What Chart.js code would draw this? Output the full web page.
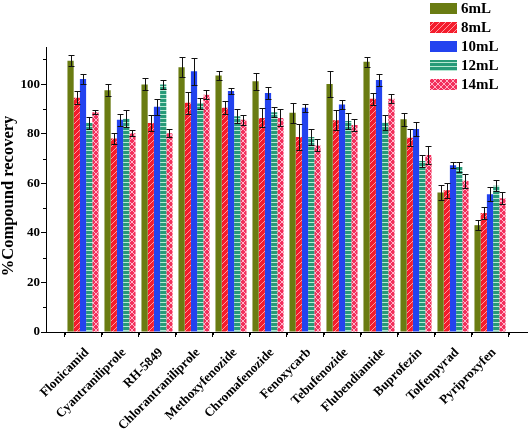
<!DOCTYPE html>
<html>
<head>
<meta charset="utf-8">
<script src="https://cdn.jsdelivr.net/npm/chart.js@4.4.0/dist/chart.umd.min.js"></script>
<style>
  html, body { margin: 0; padding: 0; background: #fff; }
</style>
</head>
<body>
<canvas id="myChart" width="529" height="437"></canvas>
<script>
var compounds = ["Flonicamid", "Cyantraniliprole", "RH-5849", "Chlorantraniliprole", "Methoxyfenozide",
    "Chromafenozide", "Fenoxycarb", "Tebufenozide", "Flubendiamide", "Buprofezin", "Tolfenpyrad", "Pyriproxyfen"];
var volumes = ["6mL", "8mL", "10mL", "12mL", "14mL"];

var rec6  = [109.5, 97.5, 99.9, 106.8, 103.5, 101.2, 88.5, 100.1, 109.0, 85.8, 56.3, 43.1];
var err6  = [2.2, 2.4, 2.4, 4.0, 1.9, 3.4, 4.0, 5.1, 1.9, 2.7, 3.2, 2.0];
var rec8  = [94.5, 78.1, 84.3, 92.5, 90.5, 86.4, 78.7, 85.4, 94.1, 78.4, 57.2, 48.0];
var err8  = [2.7, 2.3, 3.2, 4.4, 2.7, 3.8, 5.4, 4.0, 2.4, 3.4, 3.1, 2.5];
var rec10 = [102.1, 85.6, 90.9, 105.2, 97.2, 96.4, 90.5, 91.8, 101.7, 81.9, 67.3, 55.6];
var err10 = [2.2, 2.4, 3.2, 5.4, 1.2, 2.5, 1.6, 1.9, 2.4, 2.8, 1.1, 2.9];
var rec12 = [84.3, 86.0, 99.9, 92.2, 87.1, 88.7, 78.7, 85.1, 84.4, 69.0, 66.6, 59.0];
var err12 = [2.5, 3.4, 1.7, 2.3, 2.7, 2.1, 3.2, 3.1, 3.0, 2.4, 2.1, 2.3];
var rec14 = [88.7, 80.2, 80.2, 95.7, 85.6, 86.4, 75.3, 83.5, 94.1, 71.4, 61.0, 54.0];
var err14 = [0.8, 1.2, 1.6, 1.8, 1.9, 3.4, 2.4, 2.3, 1.8, 3.8, 2.7, 2.3];

var yTicks = [0, 20, 40, 60, 80, 100];
var yTitle = '%Compound recovery';

var serif = "'Liberation Serif', 'Times New Roman', serif";

var makePattern = function (bg, line, kind) {
    var c = document.createElement('canvas');
    var s = kind == 'horiz' ? 4 : 6;
    c.width = s; c.height = s;
    var g = c.getContext('2d');
    g.fillStyle = bg;
    g.fillRect(0, 0, s, s);
    g.strokeStyle = line;
    g.lineWidth = 1;
    g.beginPath();
    if (kind == 'horiz') {
        g.moveTo(0, 2.5); g.lineTo(s, 2.5);
    } else {
        g.moveTo(-1, s + 1); g.lineTo(s + 1, -1);
        if (kind == 'cross') { g.moveTo(-1, -1); g.lineTo(s + 1, s + 1); }
    }
    g.stroke();
    return g.createPattern(c, 'repeat');
};

var fills = [
    '#6a7c12',
    makePattern('#f41c2c', 'rgba(255,170,175,0.9)', 'diag'),
    '#2343ef',
    makePattern('#269a78', 'rgba(190,235,215,0.95)', 'horiz'),
    makePattern('#f2305c', 'rgba(255,185,205,0.95)', 'cross')
];

var toPoints = function (arr) {
    return arr.map(function (v, i) { return {x: i + 1, y: v}; });
};

var series = [rec6, rec8, rec10, rec12, rec14];
var errors = [err6, err8, err10, err12, err14];

var errorBars = {
    id: 'errorBars',
    afterDatasetsDraw: function (chart) {
        var ctx = chart.ctx, y = chart.scales.y;
        ctx.save();
        ctx.strokeStyle = '#111';
        ctx.lineWidth = 1;
        chart.data.datasets.forEach(function (ds, i) {
            var meta = chart.getDatasetMeta(i);
            meta.data.forEach(function (bar, j) {
                var v = ds.data[j].y, e = ds.errors[j];
                var top = Math.round(y.getPixelForValue(v + e)) + 0.5;
                var bot = Math.round(y.getPixelForValue(v - e)) + 0.5;
                var cx = Math.round(bar.x) + 0.5, hw = 3;
                ctx.beginPath();
                ctx.moveTo(cx, top); ctx.lineTo(cx, bot);
                ctx.moveTo(cx - hw, top); ctx.lineTo(cx + hw, top);
                ctx.moveTo(cx - hw, bot); ctx.lineTo(cx + hw, bot);
                ctx.stroke();
            });
        });
        ctx.restore();
    }
};

// minor ticks + y title
var axisExtras = {
    id: 'axisExtras',
    afterDraw: function (chart) {
        var ctx = chart.ctx, x = chart.scales.x, y = chart.scales.y;
        ctx.save();
        ctx.strokeStyle = '#000';
        ctx.lineWidth = 1;
        ctx.beginPath();
        for (var v = 10; v < 115; v += 20) {
            var py = Math.round(y.getPixelForValue(v)) + 0.5;
            ctx.moveTo(y.right - 3, py); ctx.lineTo(y.right, py);
        }
        for (var k = 0.5; k < 13; k += 1) {
            var px = Math.round(x.getPixelForValue(k)) + 0.5;
            ctx.moveTo(px, x.top); ctx.lineTo(px, x.top + 3);
        }
        ctx.stroke();

        ctx.translate(9, 196);
        ctx.rotate(-Math.PI / 2);
        ctx.font = 'bold 16.5px ' + serif;
        ctx.fillStyle = '#000';
        ctx.textAlign = 'center';
        ctx.textBaseline = 'middle';
        ctx.fillText(yTitle, 0, 0);
        ctx.restore();
    }
};

var boxLegend = {
    id: 'boxLegend',
    afterDraw: function (chart) {
        var ctx = chart.ctx;
        ctx.save();
        ctx.font = 'bold 15px ' + serif;
        ctx.textBaseline = 'middle';
        ctx.textAlign = 'left';
        chart.data.datasets.forEach(function (ds, i) {
            var cy = 8 + i * 19.1;
            ctx.fillStyle = ds.backgroundColor;
            ctx.fillRect(430, Math.round(cy - 5.5), 27, 11);
            ctx.fillStyle = '#000';
            ctx.fillText(ds.label, 461, cy + 1);
        });
        ctx.restore();
    }
};

var data = {
    datasets: volumes.map(function (vol, i) {
        return {
            label: vol,
            data: toPoints(series[i]),
            errors: errors[i],
            backgroundColor: fills[i],
            borderWidth: 0,
            categoryPercentage: 0.84,
            barPercentage: 1.0
        };
    })
};

var myChart = new Chart(document.getElementById('myChart'), {
    type: 'bar',
    data: data,
    plugins: [errorBars, axisExtras, boxLegend],
    options: {
        responsive: false,
        animation: false,
        layout: {padding: {top: 47, right: 2, left: 0, bottom: 0}},
        plugins: {legend: {display: false}, tooltip: {enabled: false}},
        scales: {
            x: {
                type: 'linear',
                min: 0,
                max: 13,
                offset: false,
                grid: {display: true, drawOnChartArea: false, drawTicks: true, tickLength: 5, color: '#000'},
                border: {display: true, color: '#000', width: 1},
                ticks: {
                    stepSize: 1,
                    autoSkip: false,
                    minRotation: 45,
                    maxRotation: 45,
                    padding: 8,
                    labelOffset: 4,
                    color: '#000',
                    font: {family: serif, size: 13, weight: 'bold'},
                    callback: function (value) {
                        return compounds[Math.round(value) - 1] || '';
                    }
                },
                afterFit: function (scale) {
                    scale.height = 105;
                    scale.paddingLeft = 0;
                    scale.paddingRight = 0;
                }
            },
            y: {
                min: 0,
                max: 115,
                grid: {display: true, drawOnChartArea: false, drawTicks: true, tickLength: 5, color: '#000'},
                border: {display: true, color: '#000', width: 1},
                ticks: {
                    stepSize: 20,
                    includeBounds: false,
                    padding: 1,
                    color: '#000',
                    font: {family: serif, size: 13, weight: 'bold'},
                    callback: function (value) {
                        return yTicks.indexOf(value) >= 0 ? value : '';
                    }
                },
                afterFit: function (scale) { scale.width = 46; }
            }
        }
    }
});
</script>
</body>
</html>
